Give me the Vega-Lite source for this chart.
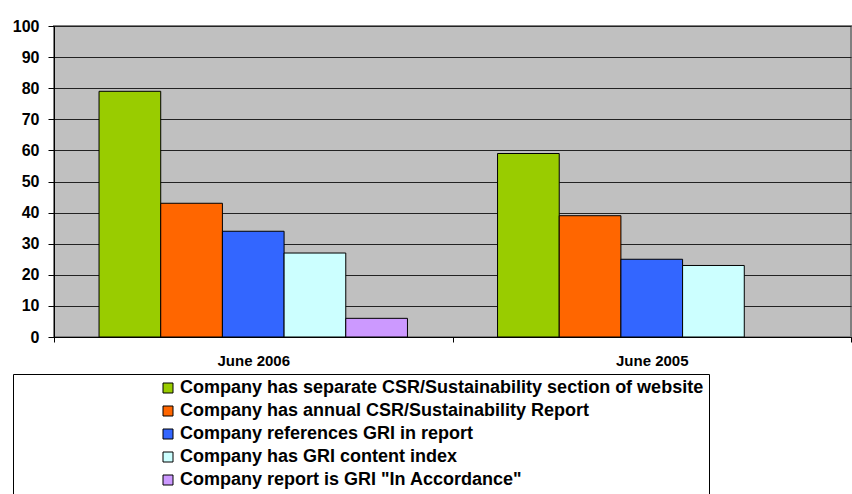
{
  "$schema": "https://vega.github.io/schema/vega-lite/v6.json",
  "width": 797,
  "height": 311,
  "autosize": {"type": "none"},
  "padding": {"left": 54, "top": 26, "right": 1, "bottom": 157},
  "background": "white",
  "data": {
    "values": [
      {"period": "June 2006", "measure": "Company has separate CSR/Sustainability section of website", "value": 79},
      {"period": "June 2006", "measure": "Company has annual CSR/Sustainability Report", "value": 43},
      {"period": "June 2006", "measure": "Company references GRI in report", "value": 34},
      {"period": "June 2006", "measure": "Company has GRI content index", "value": 27},
      {"period": "June 2006", "measure": "Company report is GRI \"In Accordance\"", "value": 6},
      {"period": "June 2005", "measure": "Company has separate CSR/Sustainability section of website", "value": 59},
      {"period": "June 2005", "measure": "Company has annual CSR/Sustainability Report", "value": 39},
      {"period": "June 2005", "measure": "Company references GRI in report", "value": 25},
      {"period": "June 2005", "measure": "Company has GRI content index", "value": 23}
    ]
  },
  "mark": {"type": "bar", "stroke": "black", "strokeWidth": 1},
  "encoding": {
    "x": {
      "field": "period",
      "type": "nominal",
      "sort": ["June 2006", "June 2005"],
      "scale": {"paddingInner": 0, "paddingOuter": 0},
      "axis": {
        "title": null,
        "labelAngle": 0,
        "labelFontSize": 15,
        "labelFontWeight": "bold",
        "labelColor": "black",
        "labelPadding": 11,
        "tickBand": "extent",
        "tickSize": 5,
        "tickColor": "black",
        "domainColor": "black",
        "grid": false
      }
    },
    "xOffset": {
      "field": "measure",
      "type": "nominal",
      "sort": [
        "Company has separate CSR/Sustainability section of website",
        "Company has annual CSR/Sustainability Report",
        "Company references GRI in report",
        "Company has GRI content index",
        "Company report is GRI \"In Accordance\""
      ],
      "scale": {"paddingInner": 0, "paddingOuter": 0.73}
    },
    "y": {
      "field": "value",
      "type": "quantitative",
      "scale": {"domain": [0, 100], "nice": false},
      "axis": {
        "title": null,
        "values": [0, 10, 20, 30, 40, 50, 60, 70, 80, 90, 100],
        "grid": true,
        "gridColor": "#222222",
        "gridWidth": 1,
        "tickSize": 6,
        "tickColor": "black",
        "domainColor": "black",
        "labelFontSize": 16,
        "labelFontWeight": "bold",
        "labelColor": "black",
        "labelPadding": 9
      }
    },
    "color": {
      "field": "measure",
      "type": "nominal",
      "sort": [
        "Company has separate CSR/Sustainability section of website",
        "Company has annual CSR/Sustainability Report",
        "Company references GRI in report",
        "Company has GRI content index",
        "Company report is GRI \"In Accordance\""
      ],
      "scale": {
        "domain": [
          "Company has separate CSR/Sustainability section of website",
          "Company has annual CSR/Sustainability Report",
          "Company references GRI in report",
          "Company has GRI content index",
          "Company report is GRI \"In Accordance\""
        ],
        "range": ["#99cc00", "#ff6600", "#3366ff", "#ccffff", "#cc99ff"]
      },
      "legend": {
        "title": null,
        "orient": "none",
        "legendX": -41,
        "legendY": 348,
        "fillColor": "white",
        "strokeColor": "black",
        "padding": 5,
        "symbolType": "square",
        "symbolSize": 100,
        "symbolStrokeColor": "black",
        "symbolStrokeWidth": 1,
        "symbolOffset": 141,
        "labelOffset": 3,
        "labelFontSize": 18,
        "labelFontWeight": "bold",
        "labelColor": "black",
        "labelLimit": 800,
        "rowPadding": 5
      }
    }
  },
  "config": {
    "font": "Liberation Sans",
    "view": {"fill": "#c0c0c0", "stroke": "#808080", "strokeWidth": 2}
  }
}
